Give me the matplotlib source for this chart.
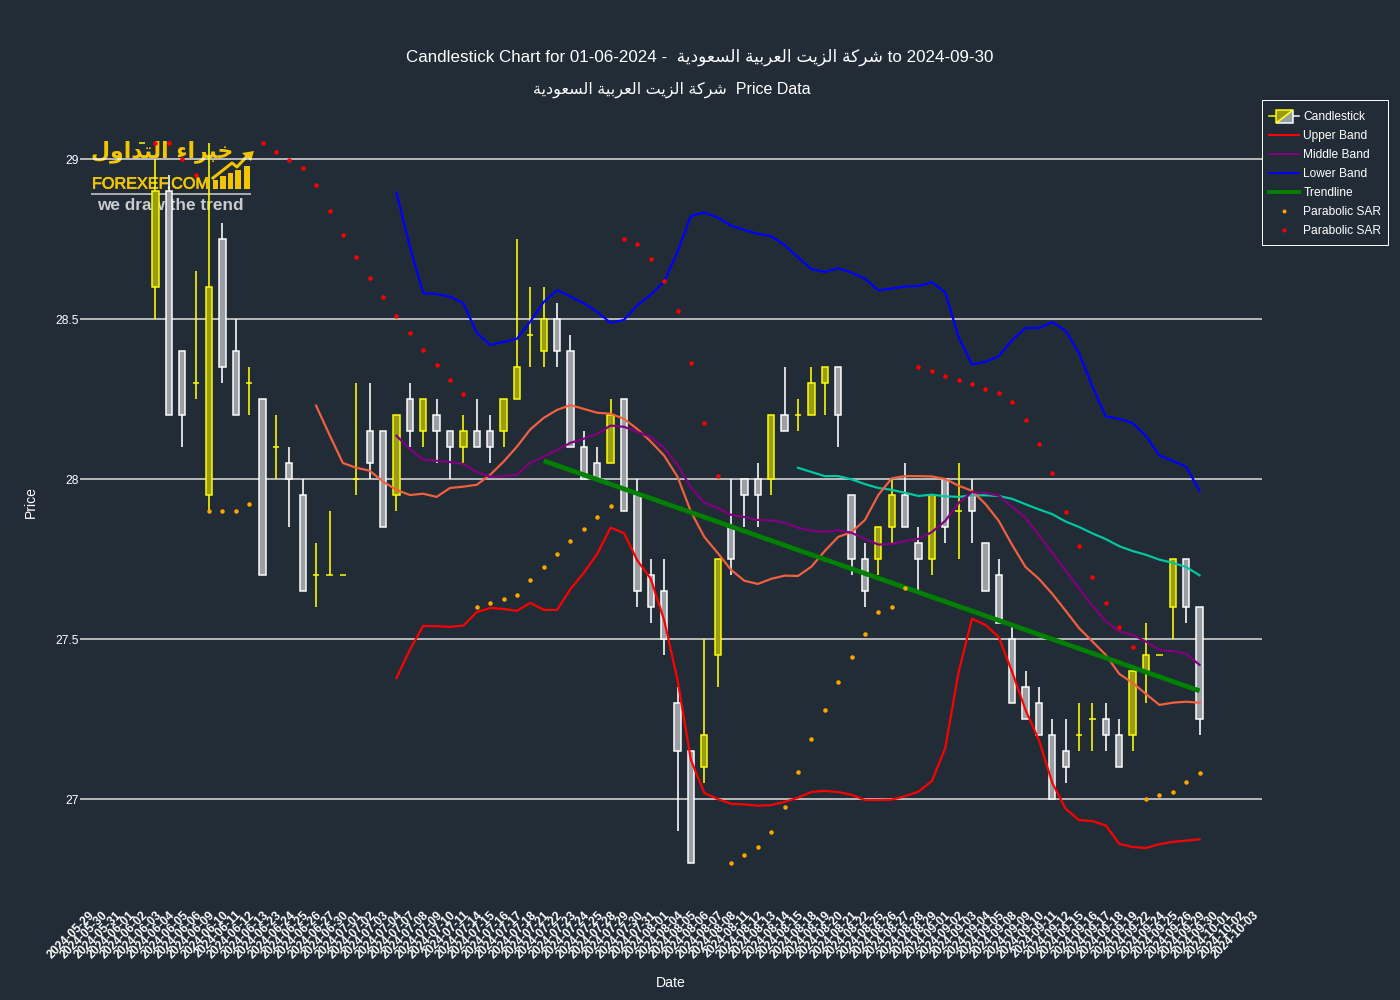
import matplotlib
matplotlib.use("Agg")
import matplotlib.pyplot as plt
import matplotlib.patheffects as pe
import numpy as np
from matplotlib.legend_handler import HandlerBase
from matplotlib.lines import Line2D
from matplotlib.patches import Polygon, Rectangle
from matplotlib.transforms import ScaledTranslation

PX = 0.72  # points per pixel at dpi 100
BG = "#222c36"
FONT = ["Liberation Sans", "DejaVu Sans"]
plt.rcParams["font.family"] = FONT

dates = ["2024-" + d for d in (
    "05-29 05-30 05-31 06-01 06-02 06-03 06-04 06-05 06-06 06-09 06-10 06-11 06-12 06-13 "
    "06-23 06-24 06-25 06-26 06-27 06-30 07-01 07-02 07-03 07-04 07-07 07-08 07-09 07-10 "
    "07-11 07-14 07-15 07-16 07-17 07-18 07-21 07-22 07-23 07-24 07-25 07-28 07-29 07-30 "
    "07-31 08-01 08-04 08-05 08-06 08-07 08-08 08-11 08-12 08-13 08-14 08-15 08-18 08-19 "
    "08-20 08-21 08-22 08-25 08-26 08-27 08-28 08-29 09-01 09-02 09-03 09-04 09-05 09-08 "
    "09-09 09-10 09-11 09-12 09-15 09-16 09-17 09-18 09-19 09-22 09-24 09-25 09-26 09-29 "
    "09-30 10-01 10-02 10-03").split()]

candle_start = "2024-06-02"
opens = [29.05, 28.6, 28.9, 28.4, 28.3, 27.95, 28.75, 28.4, 28.3, 28.25, 28.1, 28.05, 27.95, 27.7, 27.7, 27.7,
         28.0, 28.15, 28.15, 27.95, 28.25, 28.15, 28.2, 28.15, 28.1, 28.15, 28.15, 28.15, 28.25, 28.45, 28.4, 28.5,
         28.4, 28.1, 28.05, 28.05, 28.25, 27.95, 27.7, 27.65, 27.3, 27.15, 27.1, 27.45, 27.85, 28.0, 28.0, 28.0,
         28.2, 28.2, 28.2, 28.3, 28.35, 27.95, 27.75, 27.75, 27.85, 27.95, 27.8, 27.75, 28.0, 27.9, 27.95, 27.8,
         27.7, 27.5, 27.35, 27.3, 27.2, 27.15, 27.2, 27.25, 27.25, 27.2, 27.2, 27.4, 27.45, 27.6, 27.75, 27.6]
highs = [29.05, 29.0, 28.95, 28.4, 28.65, 29.05, 28.8, 28.5, 28.35, 28.25, 28.2, 28.1, 28.0, 27.8, 27.9, 27.7,
         28.3, 28.3, 28.15, 28.2, 28.3, 28.25, 28.25, 28.15, 28.2, 28.25, 28.2, 28.25, 28.75, 28.6, 28.6, 28.55,
         28.45, 28.15, 28.1, 28.25, 28.25, 28.0, 27.75, 27.75, 27.35, 27.15, 27.5, 27.75, 28.0, 28.0, 28.05, 28.2,
         28.35, 28.25, 28.35, 28.35, 28.35, 27.95, 27.8, 27.85, 28.0, 28.05, 27.85, 27.95, 28.0, 28.05, 28.0, 27.8,
         27.75, 27.55, 27.4, 27.35, 27.25, 27.25, 27.3, 27.3, 27.3, 27.25, 27.4, 27.55, 27.45, 27.75, 27.75, 27.6]
lows = [29.05, 28.5, 28.2, 28.1, 28.25, 27.9, 28.3, 28.2, 28.2, 27.7, 28.0, 27.85, 27.65, 27.6, 27.7, 27.7,
        27.95, 28.0, 27.85, 27.9, 28.1, 28.1, 28.05, 28.0, 28.05, 28.1, 28.05, 28.1, 28.25, 28.35, 28.35, 28.35,
        28.1, 28.0, 28.0, 28.05, 27.9, 27.6, 27.55, 27.45, 26.9, 26.8, 27.05, 27.35, 27.7, 27.85, 27.85, 27.95,
        28.15, 28.15, 28.2, 28.2, 28.1, 27.7, 27.6, 27.7, 27.8, 27.85, 27.65, 27.7, 27.8, 27.75, 27.8, 27.65,
        27.55, 27.3, 27.25, 27.2, 27.0, 27.05, 27.15, 27.15, 27.15, 27.1, 27.15, 27.3, 27.45, 27.5, 27.55, 27.2]
closes = [29.05, 28.9, 28.2, 28.2, 28.3, 28.6, 28.35, 28.2, 28.3, 27.7, 28.1, 28.0, 27.65, 27.7, 27.7, 27.7,
          28.0, 28.05, 27.85, 28.2, 28.15, 28.25, 28.15, 28.1, 28.15, 28.1, 28.1, 28.25, 28.35, 28.45, 28.5, 28.4,
          28.1, 28.0, 28.0, 28.2, 27.9, 27.65, 27.6, 27.5, 27.15, 26.8, 27.2, 27.75, 27.75, 27.95, 27.95, 28.2,
          28.15, 28.2, 28.3, 28.35, 28.2, 27.75, 27.65, 27.85, 27.95, 27.85, 27.75, 27.95, 27.85, 27.9, 27.9, 27.65,
          27.55, 27.3, 27.25, 27.2, 27.0, 27.1, 27.2, 27.25, 27.2, 27.1, 27.4, 27.45, 27.45, 27.75, 27.6, 27.25]

band_start = "2024-07-04"
upper_band = [27.378, 27.466, 27.541, 27.540, 27.538, 27.542, 27.584, 27.597, 27.594, 27.588, 27.613, 27.591, 27.591,
              27.656, 27.707, 27.766, 27.848, 27.831, 27.745, 27.688, 27.559, 27.372, 27.122, 27.019, 27.000, 26.985,
              26.983, 26.979, 26.981, 26.991, 27.004, 27.022, 27.025, 27.022, 27.013, 26.997, 26.997, 26.998, 27.009,
              27.023, 27.056, 27.159, 27.397, 27.563, 27.544, 27.506, 27.397, 27.278, 27.184, 27.050, 26.969, 26.934,
              26.931, 26.917, 26.860, 26.850, 26.847, 26.859, 26.866, 26.870, 26.874]
middle_band = [28.135, 28.094, 28.060, 28.057, 28.053, 28.047, 28.022, 28.007, 28.009, 28.013, 28.051, 28.070, 28.091,
               28.113, 28.126, 28.141, 28.167, 28.163, 28.147, 28.131, 28.097, 28.044, 27.973, 27.926, 27.909, 27.888,
               27.881, 27.872, 27.871, 27.863, 27.848, 27.838, 27.835, 27.840, 27.832, 27.813, 27.795, 27.797, 27.806,
               27.813, 27.834, 27.869, 27.925, 27.959, 27.956, 27.948, 27.913, 27.878, 27.825, 27.769, 27.713, 27.659,
               27.603, 27.556, 27.523, 27.513, 27.492, 27.466, 27.462, 27.454, 27.419]
lower_band = [28.895, 28.726, 28.581, 28.578, 28.570, 28.549, 28.457, 28.419, 28.428, 28.438, 28.492, 28.553, 28.590,
              28.570, 28.549, 28.522, 28.488, 28.497, 28.543, 28.576, 28.617, 28.710, 28.822, 28.833, 28.817, 28.792,
              28.778, 28.766, 28.759, 28.731, 28.693, 28.656, 28.647, 28.659, 28.645, 28.626, 28.590, 28.595, 28.602,
              28.603, 28.615, 28.583, 28.443, 28.358, 28.366, 28.384, 28.434, 28.472, 28.472, 28.490, 28.463, 28.393,
              28.288, 28.195, 28.188, 28.175, 28.134, 28.073, 28.057, 28.038, 27.963]

avg_fast_start = "2024-06-26"
avg_fast = [28.229, 28.138, 28.050, 28.035, 28.026, 27.992, 27.966, 27.950, 27.954, 27.944, 27.972, 27.976, 27.982,
            28.013, 28.054, 28.101, 28.155, 28.191, 28.216, 28.231, 28.219, 28.207, 28.204, 28.188, 28.156, 28.117,
            28.073, 28.007, 27.898, 27.819, 27.769, 27.716, 27.682, 27.672, 27.688, 27.698, 27.697, 27.726, 27.775,
            27.819, 27.834, 27.872, 27.950, 28.002, 28.009, 28.009, 28.008, 28.000, 27.979, 27.963, 27.922, 27.869,
            27.794, 27.725, 27.688, 27.641, 27.588, 27.534, 27.492, 27.450, 27.391, 27.363, 27.328, 27.294, 27.301,
            27.304, 27.301]
avg_slow_start = "2024-08-15"
avg_slow = [28.035, 28.022, 28.009, 28.009, 27.999, 27.984, 27.972, 27.966, 27.957, 27.947, 27.951, 27.946, 27.944,
            27.949, 27.949, 27.947, 27.938, 27.921, 27.905, 27.890, 27.867, 27.850, 27.830, 27.812, 27.790, 27.775,
            27.763, 27.748, 27.738, 27.725, 27.699]

trend_dates = ["2024-07-21", "2024-09-29"]
trend_values = [28.057, 27.338]

sar_low_runs = [
    ("2024-06-09", [27.9, 27.9, 27.9, 27.923]),
    ("2024-07-14", [27.6, 27.6125, 27.626, 27.638, 27.683, 27.726, 27.767, 27.806, 27.844, 27.880, 27.915]),
    ("2024-08-08", [26.801, 26.825, 26.849, 26.897, 26.975, 27.085, 27.187, 27.279, 27.366, 27.444, 27.517, 27.584,
                    27.601, 27.660]),
    ("2024-09-22", [27.001, 27.0125, 27.023, 27.052, 27.080]),
]
sar_high_runs = [
    ("2024-06-03", [29.05, 29.05, 29.0, 28.95]),
    ("2024-06-13", [29.05, 29.022, 28.997, 28.972, 28.919, 28.8375, 28.7625, 28.694, 28.628, 28.569, 28.509, 28.456,
                    28.403, 28.356, 28.309, 28.266]),
    ("2024-07-29", [28.75, 28.734, 28.6875, 28.619, 28.525, 28.3625, 28.175, 28.010]),
    ("2024-08-28", [28.35, 28.337, 28.323, 28.309, 28.296, 28.282, 28.270, 28.242, 28.185, 28.110, 28.02, 27.898,
                    27.79, 27.695, 27.612, 27.538, 27.474]),
]

y_ticks = [27, 27.5, 28, 28.5, 29]
y_tick_labels = ["27", "27.5", "28", "28.5", "29"]

company_forms = ("\ufeb7\ufeae\ufedb\ufe94 \ufe8d\ufedf\ufeb0\ufef3\ufe96 "
                 "\ufe8d\ufedf\ufecc\ufeae\ufe91\ufef4\ufe94 "
                 "\ufe8d\ufedf\ufeb4\ufecc\ufeee\ufea9\ufef3\ufe94")
company = company_forms[::-1]
logo_arabic = ("\ufea7\ufe92\ufeae\ufe8d\ufe80 \ufe8d\ufedf\ufe98\ufeaa\ufe8d\ufeed\ufedd")[::-1]


def pos(start, n):
    return np.arange(n) + dates.index(start)


YELLOW = "#ffff00"
WHITE = "#ffffff"
YELLOW_FILL = (1, 1, 0, 0.54)
WHITE_FILL = (1, 1, 1, 0.55)
GOLD = "#f2c500"
LINE = 2.2 * PX

fig = plt.figure(figsize=(14, 10), dpi=100, facecolor=BG)

# logo layer, beneath the plot, in pixel units
logo = fig.add_axes([0, 0, 1, 1], zorder=0)
logo.set_xlim(0, 1400)
logo.set_ylim(1000, 0)
logo.axis("off")
logo.text(162, 152, logo_arabic, color=GOLD, fontsize=22 * PX, fontweight="bold", ha="center", va="center",
          family=["DejaVu Sans"])
logo.text(92, 188.5, "FOREXEF.COM", color=GOLD, fontsize=16.2 * PX, ha="left", va="baseline",
          path_effects=[pe.withStroke(linewidth=0.5, foreground=GOLD)])
logo.plot([92, 250], [194, 194], color="#a8abae", lw=2 * PX)
logo.text(97, 210, "we draw the trend", color="#c9cbcd", fontsize=17.3 * PX, fontweight="bold", ha="left",
          va="baseline")
for bx, top in zip([215.5, 223, 230.5, 238, 247], [180, 176, 173, 170, 166]):
    logo.fill_between([bx - 2.7, bx + 2.7], top, 189, color=GOLD, lw=0)
logo.plot([213, 232, 237, 249], [178, 163, 167, 154], color=GOLD, lw=3 * PX)
logo.add_patch(Polygon([[242, 153], [254, 151], [251, 161]], closed=True, color=GOLD, lw=0))

ax = fig.add_axes([80 / 1400, (1000 - 906) / 1000, 1182 / 1400, 806 / 1000], zorder=1)
ax.patch.set_visible(False)

x = pos(candle_start, len(opens))
o, h, l, c = map(np.array, (opens, highs, lows, closes))
up = c >= o
for mask, edge, fill in ((up, YELLOW, YELLOW_FILL), (~up, WHITE, WHITE_FILL)):
    ax.vlines(x[mask], l[mask], h[mask], color=edge, lw=1.6 * PX, zorder=2)
    ax.bar(x[mask], np.abs(c - o)[mask], bottom=np.minimum(o, c)[mask], width=0.47,
           facecolor=BG, edgecolor="none", zorder=2.1)
    ax.bar(x[mask], np.abs(c - o)[mask], bottom=np.minimum(o, c)[mask], width=0.47,
           facecolor=fill, edgecolor=edge, linewidth=1.5 * PX, zorder=2.2)

ax.plot(pos(avg_slow_start, len(avg_slow)), avg_slow, color="#00c8a0", lw=LINE, zorder=3)
ax.plot(pos(avg_fast_start, len(avg_fast)), avg_fast, color="#f2603f", lw=LINE, zorder=3)
ax.plot(pos(band_start, len(upper_band)), upper_band, color="#ff0000", lw=LINE, zorder=3)
ax.plot(pos(band_start, len(middle_band)), middle_band, color="#800080", lw=LINE, zorder=3)
ax.plot(pos(band_start, len(lower_band)), lower_band, color="#0000ff", lw=LINE, zorder=3)
ax.plot([dates.index(d) for d in trend_dates], trend_values, color="#008000", lw=4.8 * PX,
        solid_capstyle="butt", zorder=4)
for start, vals in sar_low_runs:
    ax.plot(pos(start, len(vals)), vals, ls="none", marker="o", ms=4.5 * PX, mew=0, color="#ffa500", zorder=5)
for start, vals in sar_high_runs:
    ax.plot(pos(start, len(vals)), vals, ls="none", marker="o", ms=4.5 * PX, mew=0, color="#ff0000", zorder=5)

ax.set_xlim(-0.64, 87.665)
ax.set_ylim(27 - 107 / 320, 27 + 699 / 320)
ax.set_xticks(np.arange(len(dates)))
ax.set_xticklabels(dates, rotation=45, ha="right", va="top", rotation_mode="anchor",
                   fontsize=12 * PX, fontweight="bold", color=WHITE)
shift = ScaledTranslation(-1.5 / 100, 0, fig.dpi_scale_trans)
for lab in ax.get_xticklabels():
    lab.set_transform(lab.get_transform() + shift)
ax.set_yticks(y_ticks)
ax.set_yticklabels(y_tick_labels, fontsize=12 * PX, color=WHITE)
ax.tick_params(axis="x", length=0, pad=3 * PX)
ax.tick_params(axis="y", length=0, pad=1.5 * PX)
ax.grid(axis="y", color=WHITE, alpha=0.65, lw=2 * PX)
ax.set_axisbelow(True)
for s in ax.spines.values():
    s.set_visible(False)

fig.text(700 / 1400, 1 - 57.5 / 1000, "Candlestick Chart for 01-06-2024 -  " + company + " to 2024-09-30",
         color=WHITE, fontsize=17 * PX, ha="center", va="center")
fig.text(671.5 / 1400, 1 - 89.5 / 1000, company + "  Price Data", color=WHITE, fontsize=16 * PX, ha="center", va="center")
fig.text(671 / 1400, 1 - 983 / 1000, "Date", color=WHITE, fontsize=14 * PX, ha="center", va="center")
fig.text(31 / 1400, 1 - 502 / 1000, "Price", color=WHITE, fontsize=14 * PX, ha="center", va="center", rotation=90)


class CandleKey:
    pass


class CandleHandler(HandlerBase):
    def create_artists(self, legend, orig, xd, yd, w, hgt, fs, trans):
        x0, cy = -xd, -yd + hgt / 2
        mid = x0 + w / 2
        bw, bh = 8.5 * PX, 6.5 * PX
        arts = [
            Line2D([x0, mid], [cy, cy], color=YELLOW, lw=1.5 * PX),
            Line2D([mid, x0 + w], [cy, cy], color=WHITE, lw=1.5 * PX),
            Polygon([[mid - bw, cy - bh], [mid + bw, cy - bh], [mid + bw, cy + bh]], closed=True,
                    facecolor=(0.60, 0.62, 0.64), edgecolor=WHITE, lw=1.5 * PX),
            Polygon([[mid - bw, cy - bh], [mid - bw, cy + bh], [mid + bw, cy + bh]], closed=True,
                    facecolor=(0.60, 0.60, 0.08), edgecolor=YELLOW, lw=1.5 * PX),
        ]
        for a in arts:
            a.set_transform(trans)
        return arts


handles = [
    CandleKey(),
    Line2D([], [], color="#ff0000", lw=2 * PX),
    Line2D([], [], color="#800080", lw=2 * PX),
    Line2D([], [], color="#0000ff", lw=2 * PX),
    Line2D([], [], color="#008000", lw=4 * PX),
    Line2D([], [], ls="none", marker="o", ms=4 * PX, mew=0, color="#ffa500"),
    Line2D([], [], ls="none", marker="o", ms=4 * PX, mew=0, color="#ff0000"),
]
labels = ["Candlestick", "Upper Band", "Middle Band", "Lower Band", "Trendline", "Parabolic SAR", "Parabolic SAR"]
fig.add_artist(Rectangle((1262 / 1400, 1 - 245 / 1000), 126 / 1400, 145 / 1000, transform=fig.transFigure,
                         facecolor=BG, edgecolor=WHITE, lw=1 * PX, zorder=9))
leg = fig.legend(handles, labels, handler_map={CandleKey: CandleHandler()}, loc="upper left",
                 bbox_to_anchor=(1269 / 1400, 1 - 111 / 1000), bbox_transform=fig.transFigure, borderaxespad=0,
                 fontsize=12 * PX, labelcolor=WHITE, frameon=False,
                 handlelength=2.5, handleheight=1.0, handletextpad=0.36, labelspacing=0.54, borderpad=0)
leg.set_zorder(10)

fig.savefig("out.png", dpi=100, facecolor=BG)
